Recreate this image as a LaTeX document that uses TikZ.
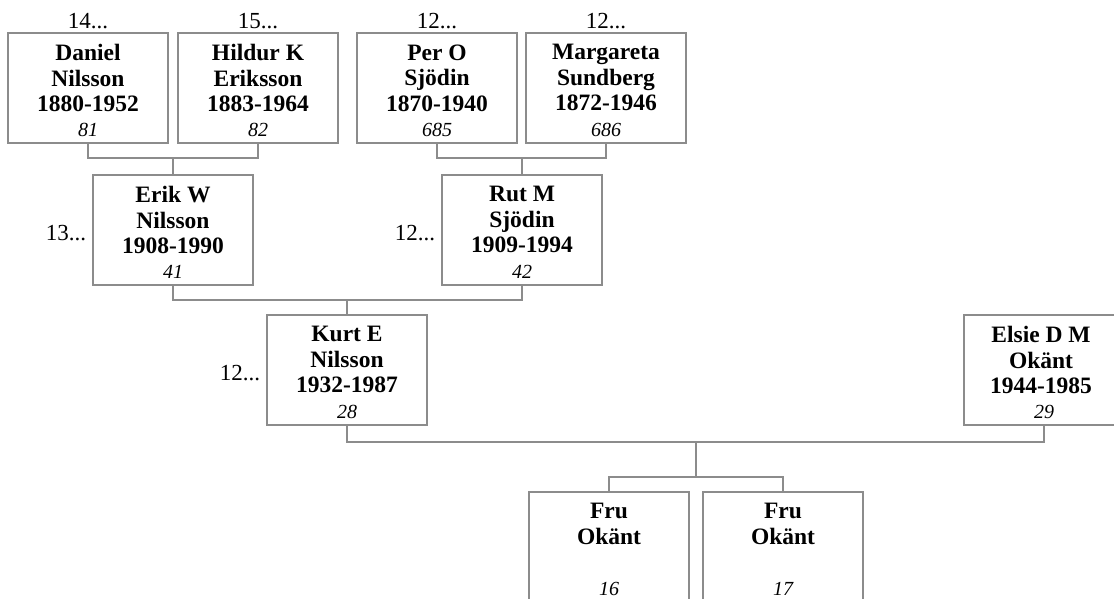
\documentclass[tikz,border=0pt]{standalone}
\usepackage{fontspec}
\setmainfont{Liberation Serif}
\begin{document}
\begin{tikzpicture}[x=1pt, y=-1pt,
    every node/.style={inner sep=0pt},
    person/.style={draw=black!45, line width=1.2pt, minimum width=160pt, minimum height=110pt},
    fullname/.style={anchor=north, yshift=-12pt, align=center, font=\fontsize{23.5}{25.5}\selectfont\bfseries},
    num/.style={anchor=base, font=\fontsize{20}{22}\selectfont\itshape},
    gen/.style={font=\fontsize{23}{25}\selectfont},
    link/.style={draw=black!45, line width=1.2pt}]
      \useasboundingbox (0,0) rectangle (1114,599);
      % boxes
      \node (daniel) at (88,88) [person] {};
      \node (hildur) at (258,88) [person] {};
      \node (per) at (437,88) [person] {};
      \node (margareta) at (606,88) [person] {};
      \node (erik) at (173,230) [person] {};
      \node (rut) at (522,230) [person] {};
      \node (kurt) at (347,370) [person] {};
      \node (elsie) at (1044,370) [person] {};
      \node (fru1) at (609,547) [person] {};
      \node (fru2) at (783,547) [person] {};
      % names
      \node (daniel-name) at (daniel.north) [fullname] {Daniel\\Nilsson\\1880-1952};
      \node (hildur-name) at (hildur.north) [fullname] {Hildur K\\Eriksson\\1883-1964};
      \node (per-name) at (per.north) [fullname] {Per O\\Sjödin\\1870-1940};
      \node (margareta-name) at (margareta.north) [fullname] {Margareta\\Sundberg\\1872-1946};
      \node (erik-name) at (erik.north) [fullname] {Erik W\\Nilsson\\1908-1990};
      \node (rut-name) at (rut.north) [fullname] {Rut M\\Sjödin\\1909-1994};
      \node (kurt-name) at (kurt.north) [fullname] {Kurt E\\Nilsson\\1932-1987};
      \node (elsie-name) at ([xshift=-3pt]elsie.north) [fullname] {Elsie D M\\Okänt\\1944-1985};
      \node (fru1-name) at (fru1.north) [fullname] {Fru\\Okänt};
      \node (fru2-name) at (fru2.north) [fullname] {Fru\\Okänt};
      % numbers
      \foreach \who/\nr in {daniel/81, hildur/82, per/685, margareta/686, erik/41, rut/42, kurt/28, elsie/29, fru1/16, fru2/17}
        \node (\who-nr) at ([yshift=7pt]\who.south) [num] {\nr};
      % generations
      \foreach \who/\gn in {daniel/14, hildur/15, per/12, margareta/12}
        \node (\who-gen) at ([yshift=4pt]\who.north) [gen, anchor=base] {\gn...};
      \foreach \who/\gn in {erik/13, rut/12, kurt/12}
        \node (\who-gen) at ([xshift=-6pt, yshift=-10pt]\who.west) [gen, anchor=base east] {\gn...};
      % links
      \coordinate (j1) at (173,158);
      \coordinate (j2) at (522,158);
      \coordinate (j3) at (347,300);
      \coordinate (j4) at (696,442);
      \coordinate (j5) at (696,477);
      \draw[link] (daniel.south) |- (j1) -| (hildur.south);
      \draw[link] (per.south) |- (j2) -| (margareta.south);
      \draw[link] (erik.south) |- (j3) -| (rut.south);
      \draw[link] (kurt.south) |- (j4) -| (elsie.south);
      \draw[link] (fru1.north) |- (j5) -| (fru2.north);
      \foreach \source/\dest in {j1/erik, j2/rut, j3/kurt}
        \draw[link] (\source) -- (\dest.north);
      \draw[link] (j4) -- (j5);
    \end{tikzpicture}
\end{document}
